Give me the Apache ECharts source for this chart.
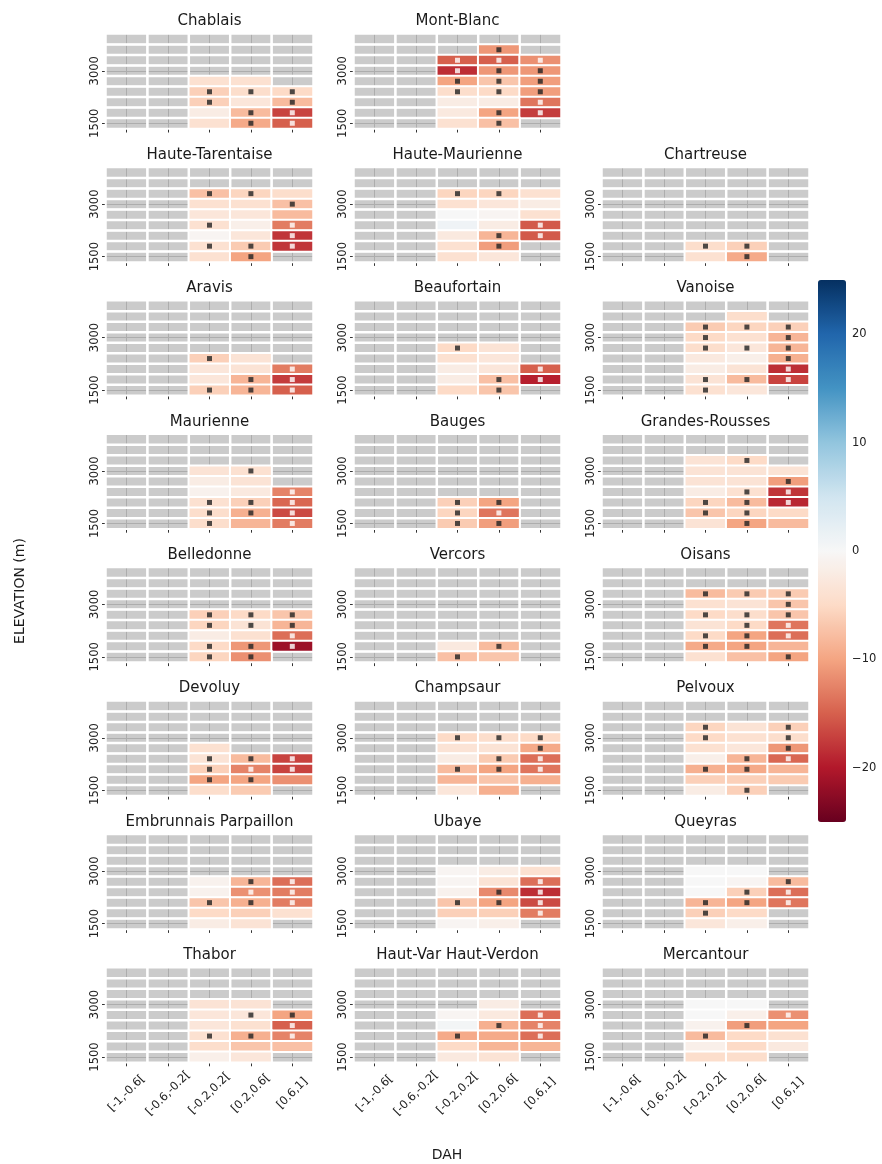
<!DOCTYPE html>
<html><head><meta charset="utf-8">
<script src="https://cdn.jsdelivr.net/npm/echarts@6/dist/echarts.min.js"></script>
<style>html,body{margin:0;padding:0;background:#fff}#c{width:882px;height:1164px}</style>
</head><body><div id="c"></div>
<script>
const N = null;
const E = [N,N,N,N,N];
const Z = [0,0,0,0,0];

const DAH = ['[-1,-0.6[','[-0.6,-0.2[','[-0.2,0.2[','[0.2,0.6[','[0.6,1]'];
const ELEVATIONS = [1500,1800,2100,2400,2700,3000,3300,3600,3900];
const Y_TICKS = [1500, 3000];
const CB_TICKS = [-20,-10,0,10,20];
const CB_MIN = -25, CB_MAX = 25;
const RDBU = ['#67001f','#b2182b','#d6604d','#f4a582','#fddbc7','#f7f7f7','#d1e5f0','#92c5de','#4393c3','#2166ac','#053061'];

// Each massif: rows from 3900 m (top) down to 1500 m (bottom); columns follow DAH.
// markers: 0 none, 1 black square, 2 white square
const Chablais_v = [E,E,E,E,[N,N,-4,-4,N],[N,N,-6,-4.5,-5],[N,N,-6,-3,-8],[N,N,-2,-8,-17],[N,N,-4,-9.5,-15]];
const Chablais_m = [Z,Z,Z,Z,Z,[0,0,1,1,1],[0,0,1,0,1],[0,0,0,1,2],[0,0,0,1,2]];

const MontBlanc_v = [E,[N,N,N,-11,N],[N,N,-15,-15,-11.5],[N,N,-18.5,-11,-11],[N,N,-10,-7,-10.5],[N,N,-4.5,-5,-10.5],[N,N,-2,-2,-13.5],[N,N,-2.5,-10,-17.5],[N,N,-4,-7.5,N]];
const MontBlanc_m = [Z,[0,0,0,1,0],[0,0,2,2,2],[0,0,2,1,1],[0,0,1,1,1],[0,0,1,1,1],[0,0,0,0,2],[0,0,0,1,2],[0,0,0,1,0]];

const HauteTarentaise_v = [E,E,[N,N,-7.5,-5.5,-4.5],[N,N,-4,-4,-7.5],[N,N,-3,-3,-8],[N,N,-4,-1.5,-13],[N,N,-0.5,-3,-18],[N,N,-4,-6.5,-18],[N,N,-4,-10,N]];
const HauteTarentaise_m = [Z,Z,[0,0,1,1,0],[0,0,0,0,1],Z,[0,0,1,0,2],[0,0,0,0,2],[0,0,1,1,2],[0,0,0,1,0]];

const HauteMaurienne_v = [E,E,[N,N,-5.5,-5.5,-4],[N,N,-4,-3,-2],[N,N,0,-0.5,-4],[N,N,1,-2,-15.5],[N,N,-2.5,-8.5,-15.5],[N,N,-4,-10.5,N],[N,N,-4,-3,N]];
const HauteMaurienne_m = [Z,Z,[0,0,1,1,0],Z,Z,[0,0,0,0,2],[0,0,0,1,2],[0,0,0,1,0],Z];

const Chartreuse_v = [E,E,E,E,E,E,E,[N,N,-4.5,-6,N],[N,N,-4,-9.5,N]];
const Chartreuse_m = [Z,Z,Z,Z,Z,Z,Z,[0,0,1,1,0],[0,0,0,1,0]];

const Aravis_v = [E,E,E,E,E,[N,N,-6,-3.5,N],[N,N,-3,-3.5,-13],[N,N,-3,-8.5,-17.5],[N,N,-6,-8.5,-15]];
const Aravis_m = [Z,Z,Z,Z,Z,[0,0,1,0,0],[0,0,0,0,2],[0,0,0,1,2],[0,0,1,1,2]];

const Beaufortain_v = [E,E,E,E,[N,N,-5,-3.5,N],[N,N,-4,-3,N],[N,N,-2,-3,-15],[N,N,-2,-7.5,-19.5],[N,N,-5,-7,N]];
const Beaufortain_m = [Z,Z,Z,Z,[0,0,1,0,0],Z,[0,0,0,0,2],[0,0,0,1,2],[0,0,0,1,0]];

const Vanoise_v = [E,[N,N,N,-4.5,N],[N,N,-6.5,-5.5,-6],[N,N,-5,-4,-8.5],[N,N,-4.5,-3,-8.5],[N,N,-2.5,-1.5,-9],[N,N,-2,-3.5,-18.5],[N,N,-3.5,-8,-17],[N,N,-4,-3,N]];
const Vanoise_m = [Z,Z,[0,0,1,1,1],[0,0,1,0,1],[0,0,1,1,1],[0,0,0,0,1],[0,0,0,0,2],[0,0,1,1,2],[0,0,1,0,0]];

const Maurienne_v = [E,E,E,[N,N,-3.5,-4,N],[N,N,-2,-3.5,N],[N,N,-1,-2.5,-12.5],[N,N,-4,-6,-14.5],[N,N,-4.5,-9,-16.5],[N,N,-4.5,-8.5,-13]];
const Maurienne_m = [Z,Z,Z,[0,0,0,1,0],Z,[0,0,0,0,2],[0,0,1,1,2],[0,0,1,1,2],[0,0,1,0,2]];

const Bauges_v = [E,E,E,E,E,E,[N,N,-6,-10,N],[N,N,-5.5,-13.5,N],[N,N,-6.5,-10.5,N]];
const Bauges_m = [Z,Z,Z,Z,Z,Z,[0,0,1,1,0],[0,0,1,2,0],[0,0,1,1,0]];

const GrandesRousses_v = [E,E,[N,N,-3.5,-5,N],[N,N,-3.5,-3.5,-3.5],[N,N,-3.5,-3.5,-10.5],[N,N,-2,-4,-18],[N,N,-5.5,-8,-19],[N,N,-7,-5.5,-5],[N,N,-3.5,-10,-8]];
const GrandesRousses_m = [Z,Z,[0,0,0,1,0],Z,[0,0,0,0,1],[0,0,0,1,2],[0,0,1,1,2],[0,0,1,1,0],[0,0,0,1,0]];

const Belledonne_v = [E,E,E,E,[N,N,-6,-5,-7],[N,N,-5.5,-3.5,-8.5],[N,N,-2,-4,-14],[N,N,-5,-11,-21.5],[N,N,-5.5,-11.5,N]];
const Belledonne_m = [Z,Z,Z,Z,[0,0,1,1,1],[0,0,1,1,1],[0,0,0,0,2],[0,0,1,1,2],[0,0,1,1,0]];

const Vercors_v = [E,E,E,E,E,E,E,[N,N,-2.5,-8,N],[N,N,-7.5,-7,N]];
const Vercors_m = [Z,Z,Z,Z,Z,Z,Z,[0,0,0,1,0],[0,0,1,0,0]];

const Oisans_v = [E,E,[N,N,-8,-6.5,-6.5],[N,N,-4,-3.5,-7],[N,N,-5,-4.5,-7],[N,N,-3.5,-5,-13.5],[N,N,-5,-10,-14],[N,N,-9.5,-10,-8.5],[N,N,-4,-7.5,-10]];
const Oisans_m = [Z,Z,[0,0,1,1,1],[0,0,0,0,1],[0,0,1,1,1],[0,0,0,1,2],[0,0,1,1,2],[0,0,1,1,0],[0,0,0,0,1]];

const Devoluy_v = [E,E,E,E,[N,N,-4,N,N],[N,N,-3.5,-8,-17],[N,N,-6,-12.5,-17],[N,N,-10,-10,-11.5],[N,N,-4.5,-6.5,N]];
const Devoluy_m = [Z,Z,Z,Z,Z,[0,0,1,1,2],[0,0,1,2,2],[0,0,1,1,0],Z];

const Champsaur_v = [E,E,E,[N,N,-5,-4.5,-5],[N,N,-3.5,-3.5,-9.5],[N,N,-2,-6.5,-14],[N,N,-8,-10,-13.5],[N,N,-8.5,-7,-9],[N,N,-3,-9,N]];
const Champsaur_m = [Z,Z,Z,[0,0,1,1,1],[0,0,0,0,1],[0,0,0,1,2],[0,0,1,1,2],Z,Z];

const Pelvoux_v = [E,E,[N,N,-5.5,-3.5,-6],[N,N,-5,-4,-4.5],[N,N,-4,-3,-11],[N,N,-1.5,-8.5,-14.5],[N,N,-9,-9.5,-8.5],[N,N,-6,-6,-6.5],[N,N,-2,-6,N]];
const Pelvoux_m = [Z,Z,[0,0,1,0,1],[0,0,1,0,1],[0,0,0,0,1],[0,0,0,1,2],[0,0,1,1,0],Z,[0,0,0,1,0]];

const Embrunnais_v = [E,E,E,E,[N,N,-1,-8.5,-14],[N,N,-1,-11.5,-13],[N,N,-7,-9,-13],[N,N,-5,-6,-4],[N,N,-2,-3.5,N]];
const Embrunnais_m = [Z,Z,Z,Z,[0,0,0,1,2],[0,0,0,2,2],[0,0,1,1,2],Z,Z];

const Ubaye_v = [E,E,E,[N,N,-0.5,-2,-4],[N,N,-0.5,-3.5,-14],[N,N,-1,-12,-18.5],[N,N,-7,-10,-16.5],[N,N,-6,-6,-13],[N,N,-0.5,-1.5,N]];
const Ubaye_m = [Z,Z,Z,Z,[0,0,0,0,2],[0,0,0,1,2],[0,0,1,1,2],[0,0,0,0,2],Z];

const Queyras_v = [E,E,E,[N,N,0,0,N],[N,N,0,-0.5,-8],[N,N,0,-6,-14],[N,N,-8.5,-10,-13.5],[N,N,-6,-5,N],[N,N,-3,-1.5,N]];
const Queyras_m = [Z,Z,Z,Z,[0,0,0,0,1],[0,0,0,1,2],[0,0,1,1,2],[0,0,1,0,0],Z];

const Thabor_v = [E,E,E,[N,N,-3.5,-3.5,N],[N,N,-3,-3,-10],[N,N,-3,-4,-15],[N,N,-4,-9,-12.5],[N,N,-4.5,-7,-7.5],[N,N,-1.5,-3,N]];
const Thabor_m = [Z,Z,Z,Z,[0,0,0,1,1],[0,0,0,0,2],[0,0,1,1,2],Z,Z];

const HautVar_v = [E,E,E,[N,N,N,-2,N],[N,N,-0.5,-2.5,-14],[N,N,0.5,-9,-12.5],[N,N,-9.5,-9.5,-14],[N,N,-5,-8.5,-8.5],[N,N,-2.5,-3.5,N]];
const HautVar_m = [Z,Z,Z,Z,[0,0,0,0,2],[0,0,0,1,2],[0,0,1,0,2],Z,Z];

const Mercantour_v = [E,E,E,[N,N,0,0,N],[N,N,0,-1.5,-11.5],[N,N,-1,-10.5,-10],[N,N,-8,-5,-4],[N,N,-1.5,-5,-2.5],[N,N,-4.5,-4.5,N]];
const Mercantour_m = [Z,Z,Z,Z,[0,0,0,0,2],[0,0,0,1,0],[0,0,1,0,0],Z,Z];

const LAYOUT = [
  ['Chablais','Mont-Blanc',null],
  ['Haute-Tarentaise','Haute-Maurienne','Chartreuse'],
  ['Aravis','Beaufortain','Vanoise'],
  ['Maurienne','Bauges','Grandes-Rousses'],
  ['Belledonne','Vercors','Oisans'],
  ['Devoluy','Champsaur','Pelvoux'],
  ['Embrunnais Parpaillon','Ubaye','Queyras'],
  ['Thabor','Haut-Var Haut-Verdon','Mercantour']
];
const DATA = {
  'Chablais':[Chablais_v,Chablais_m], 'Mont-Blanc':[MontBlanc_v,MontBlanc_m],
  'Haute-Tarentaise':[HauteTarentaise_v,HauteTarentaise_m], 'Haute-Maurienne':[HauteMaurienne_v,HauteMaurienne_m],
  'Chartreuse':[Chartreuse_v,Chartreuse_m], 'Aravis':[Aravis_v,Aravis_m], 'Beaufortain':[Beaufortain_v,Beaufortain_m],
  'Vanoise':[Vanoise_v,Vanoise_m], 'Maurienne':[Maurienne_v,Maurienne_m], 'Bauges':[Bauges_v,Bauges_m],
  'Grandes-Rousses':[GrandesRousses_v,GrandesRousses_m], 'Belledonne':[Belledonne_v,Belledonne_m],
  'Vercors':[Vercors_v,Vercors_m], 'Oisans':[Oisans_v,Oisans_m], 'Devoluy':[Devoluy_v,Devoluy_m],
  'Champsaur':[Champsaur_v,Champsaur_m], 'Pelvoux':[Pelvoux_v,Pelvoux_m],
  'Embrunnais Parpaillon':[Embrunnais_v,Embrunnais_m], 'Ubaye':[Ubaye_v,Ubaye_m], 'Queyras':[Queyras_v,Queyras_m],
  'Thabor':[Thabor_v,Thabor_m], 'Haut-Var Haut-Verdon':[HautVar_v,HautVar_m], 'Mercantour':[Mercantour_v,Mercantour_m]
};

const FONT = 'DejaVu Sans';
const COL_LEFT = [106, 354, 602], PW = 207, TOP0 = 34, PITCH = 133.4, PH = 94.5;
const grids = [], xAxes = [], yAxes = [], series = [], titles = [], valueSeries = [];
const nRows = ELEVATIONS.length;
const fmtMinus = v => (v < 0 ? '\u2212' + Math.abs(v) : String(v));

LAYOUT.forEach((row, r) => row.forEach((name, c) => {
  if (!name) return;
  const [vals, marks] = DATA[name];
  const gi = grids.length;
  const top = TOP0 + r * PITCH, left = COL_LEFT[c];
  const isBottom = r === LAYOUT.length - 1;
  grids.push({left, top, width: PW, height: PH, show: true, backgroundColor: '#cbcbcb', borderWidth: 0});
  titles.push({text: name, left: left + PW / 2, top: top - 20, textAlign: 'center', padding: 0,
    textStyle: {fontSize: 15, fontWeight: 'normal', color: '#1a1a1a', fontFamily: FONT}});
  // main category axes
  xAxes.push({gridIndex: gi, type: 'category', data: DAH,
    axisLine: {show: false}, splitLine: {show: false},
    axisTick: {show: true, alignWithLabel: true, length: 4, lineStyle: {color: '#333', width: 1}},
    axisLabel: {show: isBottom, interval: 0, rotate: 45, align: 'center', verticalAlign: 'middle',
      fontSize: 11.5, color: '#222', fontFamily: FONT, margin: 31}});
  yAxes.push({gridIndex: gi, type: 'category', data: ELEVATIONS.map(String),
    axisLine: {show: false}, splitLine: {show: false},
    axisTick: {show: true, alignWithLabel: true, length: 4, lineStyle: {color: '#333', width: 1},
      interval: (i, v) => Y_TICKS.includes(+v)},
    axisLabel: {show: true, rotate: 90, fontSize: 11.5, color: '#222', fontFamily: FONT, margin: 5,
      interval: (i, v) => Y_TICKS.includes(+v)}});
  // helper axes carrying grid lines at the centres of the bands
  xAxes.push({gridIndex: gi, type: 'category', boundaryGap: false,
    data: Array.from({length: 2 * DAH.length + 1}, (_, i) => 'g' + i),
    axisLine: {show: false}, axisTick: {show: false}, axisLabel: {show: false},
    splitLine: {show: true, interval: (i) => i % 2 === 1, lineStyle: {color: '#adadad', width: 1}}});
  yAxes.push({gridIndex: gi, type: 'category', boundaryGap: false,
    data: Array.from({length: 2 * nRows + 1}, (_, i) => 'g' + i),
    axisLine: {show: false}, axisTick: {show: false}, axisLabel: {show: false},
    splitLine: {show: true, interval: (i) => i % 2 === 1 && Y_TICKS.includes(ELEVATIONS[(i - 1) / 2]),
      lineStyle: {color: '#adadad', width: 1}}});

  const cells = [], empty = [], blk = [], wht = [];
  vals.forEach((rowVals, ri) => {
    const yi = nRows - 1 - ri;
    rowVals.forEach((v, xi) => {
      if (v === null) empty.push([xi, yi, 0]); else cells.push([xi, yi, v]);
      const mk = marks[ri][xi];
      if (mk === 1) blk.push([xi, yi]); else if (mk === 2) wht.push([xi, yi]);
    });
  });
  const ax = 2 * gi;
  series.push({type: 'heatmap', xAxisIndex: ax, yAxisIndex: ax, data: empty, z: 2,
    itemStyle: {color: 'rgba(0,0,0,0)', borderColor: '#ffffff', borderWidth: 2}, emphasis: {disabled: true}, silent: true});
  valueSeries.push(series.length);
  series.push({type: 'heatmap', xAxisIndex: ax, yAxisIndex: ax, data: cells, z: 3,
    itemStyle: {borderColor: '#ffffff', borderWidth: 2}, emphasis: {disabled: true}, silent: true});
  series.push({type: 'scatter', xAxisIndex: ax, yAxisIndex: ax, data: blk, z: 5, symbol: 'rect', symbolSize: 5,
    itemStyle: {color: '#222222'}, silent: true});
  series.push({type: 'scatter', xAxisIndex: ax, yAxisIndex: ax, data: wht, z: 5, symbol: 'rect', symbolSize: 5,
    itemStyle: {color: '#ffffff'}, silent: true});
}));

// colour bar axis
const CB_LEFT = 818, CB_TOP = 280, CB_W = 28, CB_H = 542;
const cbg = grids.length;
grids.push({left: CB_LEFT, top: CB_TOP, width: CB_W, height: CB_H, show: false});
xAxes.push({gridIndex: cbg, type: 'value', show: false, min: 0, max: 1});
yAxes.push({gridIndex: cbg, type: 'value', min: CB_MIN, max: CB_MAX, position: 'right',
  axisLine: {show: false}, splitLine: {show: false},
  axisTick: {show: true, length: 4, customValues: CB_TICKS, lineStyle: {color: '#333'}},
  axisLabel: {customValues: CB_TICKS, formatter: fmtMinus, fontSize: 11.5, color: '#222', fontFamily: FONT, margin: 6}});
series.push({type: 'scatter', xAxisIndex: xAxes.length - 1, yAxisIndex: yAxes.length - 1, data: [], silent: true});

const chart = echarts.init(document.getElementById('c'), null, {renderer: 'canvas'});
chart.setOption({
  animation: false,
  backgroundColor: '#ffffff',
  textStyle: {fontFamily: FONT},
  title: titles,
  grid: grids,
  xAxis: xAxes,
  yAxis: yAxes,
  visualMap: {type: 'continuous', min: CB_MIN, max: CB_MAX, seriesIndex: valueSeries, calculable: false,
    orient: 'vertical', left: CB_LEFT, top: CB_TOP, itemWidth: CB_W, itemHeight: CB_H, padding: 0,
    hoverLink: false, inRange: {color: RDBU}},
  graphic: [
    {type: 'text', x: 20, y: 591, rotation: Math.PI / 2,
      style: {text: 'ELEVATION (m)', font: '14px "DejaVu Sans"', fill: '#1a1a1a', textAlign: 'center', textVerticalAlign: 'middle'}},
    {type: 'text', x: 447, y: 1155,
      style: {text: 'DAH', font: '14px "DejaVu Sans"', fill: '#1a1a1a', textAlign: 'center', textVerticalAlign: 'middle'}}
  ],
  series
});
</script></body></html>
